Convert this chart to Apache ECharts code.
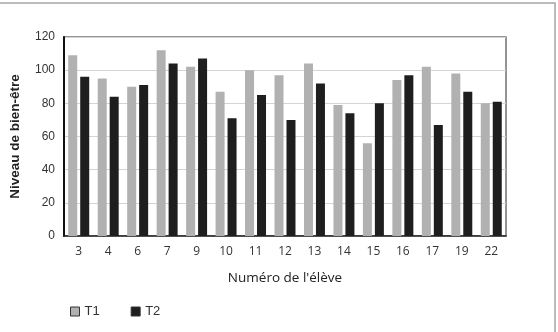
<!DOCTYPE html>
<html><head><meta charset="utf-8">
<script src="https://cdn.jsdelivr.net/npm/echarts@6/dist/echarts.min.js"></script>
<style>html,body{margin:0;padding:0;background:#fff}#c{width:558px;height:332px}</style>
</head><body><div id="c"></div>
<script>
const students = ['3','4','6','7','9','10','11','12','13','14','15','16','17','19','22'];
const t1 = [109, 95, 90, 112, 102, 87, 100, 97, 104, 79, 56, 94, 102, 98, 80];
const t2 = [96, 84, 91, 104, 107, 71, 85, 70, 92, 74, 80, 97, 67, 87, 81];
const yTicks = [0, 20, 40, 60, 80, 100, 120];

const chart = echarts.init(document.getElementById('c'), null, {renderer: 'canvas'});
chart.setOption({
  animation: false,
  backgroundColor: '#fff',
  graphic: [
    {type: 'polyline', shape: {points: [[0, 3], [555, 3], [555, 332]]}, style: {stroke: '#a6a6a6', lineWidth: 1.5, fill: null}}
  ],
  grid: {left: 63, top: 37, right: 52, bottom: 96, show: true, borderColor: '#707070', borderWidth: 1.5},
  legend: {
    left: 65, top: 300, itemWidth: 9, itemHeight: 9, itemGap: 31,
    textStyle: {fontFamily: 'Liberation Sans', fontSize: 13, color: '#333'},
    icon: 'rect',
    data: [
      {name: 'T1', itemStyle: {color: '#b1b1b1', borderColor: '#333', borderWidth: 1}},
      {name: 'T2', itemStyle: {color: '#1e1e1e', borderColor: '#333', borderWidth: 1}}
    ]
  },
  xAxis: {
    type: 'category', data: students,
    name: "Numéro de l'élève", nameLocation: 'middle', nameGap: 35,
    nameTextStyle: {fontFamily: 'Open Sans', fontSize: 13.5, color: '#222'},
    axisLine: {lineStyle: {color: '#222', width: 1.5}},
    axisTick: {show: false},
    axisLabel: {fontFamily: 'Open Sans', fontSize: 12, color: '#333', margin: 10}
  },
  yAxis: {
    type: 'value', min: 0, max: 120, interval: 20,
    name: 'Niveau de bien-être', nameLocation: 'middle', nameGap: 42,
    nameTextStyle: {fontFamily: 'Liberation Sans', fontSize: 13.5, fontWeight: 'bold', color: '#222'},
    axisLine: {show: true, lineStyle: {color: '#111', width: 2}},
    axisTick: {show: false},
    axisLabel: {fontFamily: 'Liberation Sans', fontSize: 12, color: '#333', margin: 9,
      formatter: v => yTicks.includes(v) ? String(v) : ''},
    splitLine: {lineStyle: {color: '#d4d4d4', width: 1}}
  },
  series: [
    {name: 'T1', type: 'bar', data: t1, barWidth: 9, barGap: '33%',
     itemStyle: {color: '#b1b1b1'}},
    {name: 'T2', type: 'bar', data: t2, barWidth: 9,
     itemStyle: {color: '#1e1e1e'}}
  ]
});
</script></body></html>
